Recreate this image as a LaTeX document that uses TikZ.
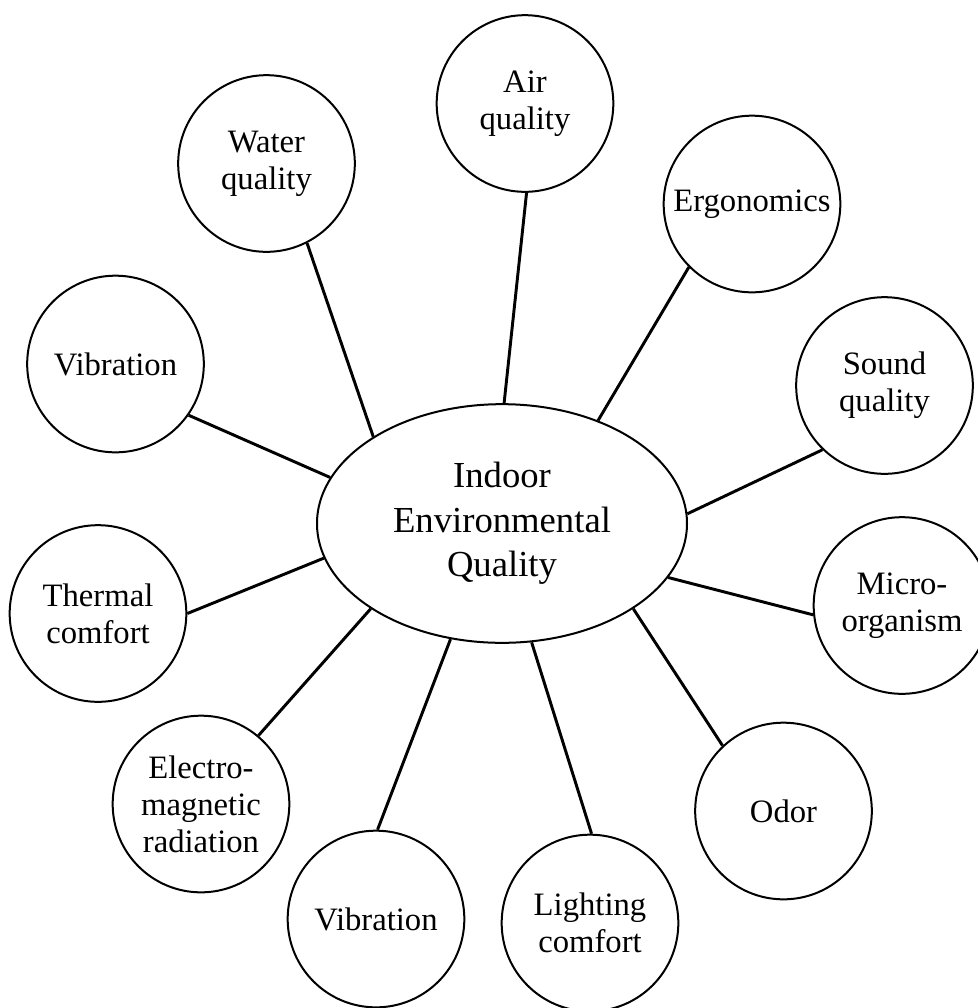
\documentclass[tikz,border=0pt]{standalone}
\usepackage{fontspec}
\setmainfont{Liberation Serif}
\usetikzlibrary{shapes.geometric}
\tikzset{
  factor/.style={circle, draw=black, line width=1.5pt, fill=white, inner sep=0pt,
    minimum size=132.5pt, align=center, font=\fontsize{24.5}{27.75}\selectfont},
  core/.style={ellipse, draw=black, line width=1.5pt, fill=white, inner sep=0pt,
    minimum width=277.5pt, minimum height=179pt, align=center,
    font=\fontsize{27.5}{33.4}\selectfont},
  link/.style={line width=2.2pt, draw=black}
}
\begin{document}
\begin{tikzpicture}[x=0.75pt,y=-0.75pt]
\useasboundingbox (0,0) rectangle (978,1008);
\node[core] (iec) at (502,523.5) {Indoor\\Environmental\\Quality};
\node[factor] (air) at (525,103.5) {Air\\quality};
\node[factor] (water) at (266.5,163.5) {Water\\quality};
\node[factor] (ergo) at (752,204) {Ergonomics};
\node[factor] (vibtl) at (115.5,364) {Vibration};
\node[factor] (sound) at (884.5,385.5) {Sound\\quality};
\node[factor] (thermal) at (98,613.5) {Thermal\\comfort};
\node[factor] (micro) at (902,605.5) {Micro-\\organism};
\node[factor] (electro) at (201,804) {Electro-\\magnetic\\radiation};
\node[factor] (odor) at (783.5,811) {Odor};
\node[factor] (vibb) at (376,919) {Vibration};
\node[factor] (light) at (590,923) {Lighting\\comfort};
\draw[link] (iec.89.5) -- (air.271.3);
\draw[link] (iec.146.5) -- (water.297);
\draw[link] (iec.47.3) -- (ergo.225.9);
\draw[link] (iec.165.2) -- (vibtl.325.6);
\draw[link] (iec.3.4) -- (sound.226.4);
\draw[link] (iec.191.2) -- (thermal.0);
\draw[link] (iec.342) -- (micro.186);
\draw[link] (iec.213.2) -- (electro.50.9);
\draw[link] (iec.327) -- (odor.133.9);
\draw[link] (iec.246.4) -- (vibb.89.3);
\draw[link] (iec.284.5) -- (light.89.3);
\end{tikzpicture}
\end{document}
